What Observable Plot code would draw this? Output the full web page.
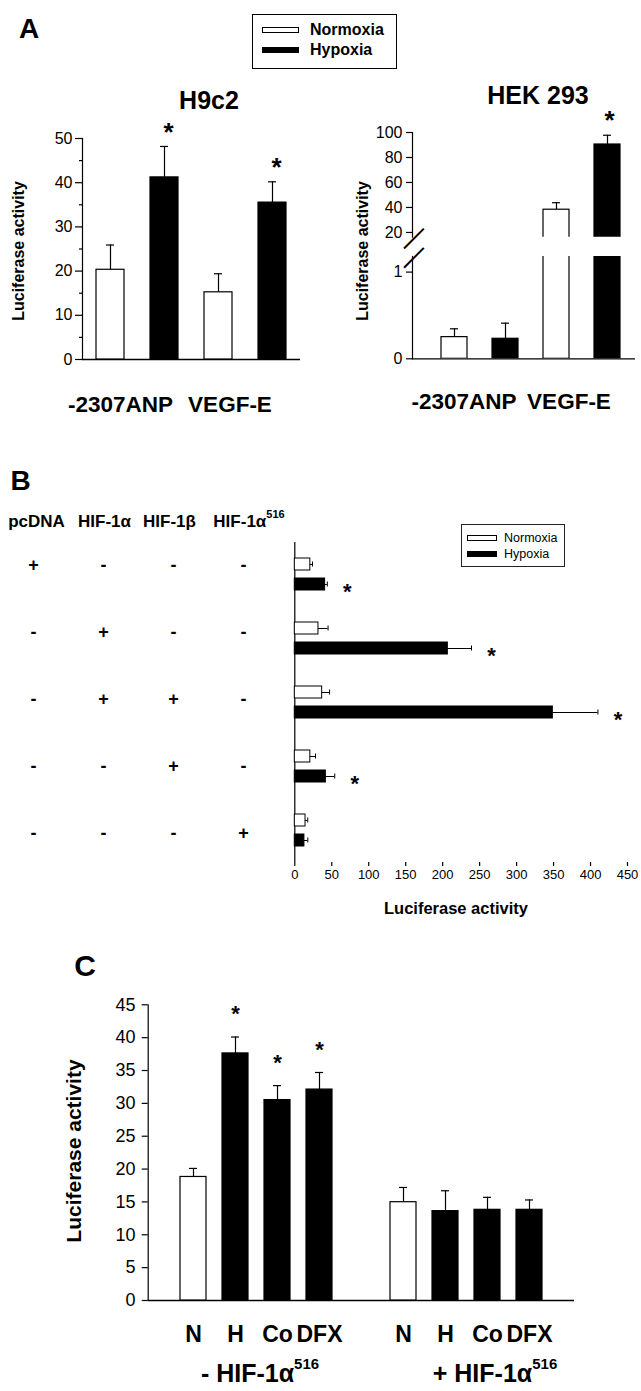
<!DOCTYPE html>
<html><head><meta charset="utf-8">
<script src="https://cdn.jsdelivr.net/npm/d3@7"></script>
<script src="https://cdn.jsdelivr.net/npm/@observablehq/plot@0.6"></script>
<style>
body{margin:0;background:#fff;}
#page{position:relative;width:641px;height:1391px;overflow:hidden;background:#fff;font-family:"Liberation Sans",Arial,Helvetica,sans-serif;color:#000;}
.lbl{position:absolute;white-space:nowrap;line-height:1;transform:translate(-50%,-50%);}
.lbl.start{transform:translate(0,-50%);}
.rot{transform:translate(-50%,-50%) rotate(-90deg);}
.box{position:absolute;box-sizing:border-box;}
</style></head><body><div id="page"></div>
<script>
// ---------- data ----------
const conditions = ["Normoxia", "Hypoxia"];
const reporters = ["-2307ANP", "VEGF-E"];
// Panel A, H9c2
const h9c2Normoxia = [20.3, 15.2];
const h9c2NormoxiaSem = [5.6, 4.2];
const h9c2Hypoxia = [41.2, 35.5];
const h9c2HypoxiaSem = [7.0, 4.7];
const h9c2Sig = [true, true];
const h9c2Ticks = [0, 10, 20, 30, 40, 50];
const h9c2MinorTicks = [5, 15, 25, 35, 45];
// Panel A, HEK 293 (broken axis)
const hekNormoxia = [0.25, 38.2];
const hekNormoxiaSem = [0.096, 5.6];
const hekHypoxia = [0.231, 90.4];
const hekHypoxiaSem = [0.18, 7.4];
const hekSig = [false, true];
const hekLowerTicks = [0, 1];
const hekUpperTicks = [20, 40, 60, 80, 100];
const hekBreak = [1.18, 16.2];
// Panel B
const constructs = ["pcDNA", "HIF-1α", "HIF-1β", "HIF-1α516"];
const transfections = [
  ["+", "-", "-", "-"],
  ["-", "+", "-", "-"],
  ["-", "+", "+", "-"],
  ["-", "-", "+", "-"],
  ["-", "-", "-", "+"]
];
const bNormoxia = [21, 32, 37, 21, 14.5];
const bNormoxiaSem = [3, 13, 10, 7, 3];
const bHypoxia = [41, 207, 349, 42, 13];
const bHypoxiaSem = [3, 32, 61, 12, 4.6];
const bSig = [true, true, true, true, false];
const bTicks = [0, 50, 100, 150, 200, 250, 300, 350, 400, 450];
// Panel C
const treatments = ["N", "H", "Co", "DFX"];
const cGroups = ["- HIF-1α516", "+ HIF-1α516"];
const cMinus = [18.8, 37.6, 30.5, 32.1];
const cMinusSem = [1.3, 2.5, 2.2, 2.6];
const cMinusSig = [false, true, true, true];
const cPlus = [14.96, 13.6, 13.8, 13.8];
const cPlusSem = [2.24, 3.1, 1.9, 1.5];
const cPlusSig = [false, false, false, false];
const cTicks = [0, 5, 10, 15, 20, 25, 30, 35, 40, 45];

// ---------- helpers ----------
const FONT = "'Liberation Sans', Arial, Helvetica, sans-serif";
const page = document.getElementById("page");
const SVGNS = "http://www.w3.org/2000/svg";
function fixFrames(svg) {
  // keep only the left edge of a frame if the anchor option was ignored
  svg.querySelectorAll('[aria-label="frame"]').forEach(el => {
    const r = el.tagName.toLowerCase() === "rect" ? el : el.querySelector("rect");
    if (!r) return;
    const x = +r.getAttribute("x"), y = +r.getAttribute("y"), h = +r.getAttribute("height");
    const line = document.createElementNS(SVGNS, "line");
    line.setAttribute("x1", x); line.setAttribute("x2", x);
    line.setAttribute("y1", y); line.setAttribute("y2", y + h);
    line.setAttribute("stroke", "black"); line.setAttribute("stroke-width", 1.2);
    r.replaceWith(line);
  });
}
function place(el, left, top) {
  fixFrames(el);
  el.style.position = "absolute";
  el.style.left = left + "px";
  el.style.top = top + "px";
  page.appendChild(el);
}
function label(html, cx, cy, size, weight = "bold", mode = "", pad = 0) {
  const d = document.createElement("div");
  d.className = "lbl" + (mode === "rot" ? " rot" : mode === "start" ? " start" : "");
  d.style.left = cx + "px";
  d.style.top = (cy - pad / 2) + "px";
  d.style.fontSize = size + "px";
  d.style.fontWeight = weight;
  if (pad) d.style.paddingTop = pad + "px";
  d.innerHTML = html;
  page.appendChild(d);
}
function supHTML(t, supSize) {
  return t.replace(/516$/, `<span style="font-size:${supSize}px;vertical-align:top;line-height:1;position:relative;top:-0.35em">516</span>`);
}
function box(left, top, w, h, css) {
  const d = document.createElement("div");
  d.className = "box";
  Object.assign(d.style, {left: left + "px", top: top + "px", width: w + "px", height: h + "px"}, css);
  page.appendChild(d);
}
const styleFor = fs => ({fontFamily: FONT, fontSize: fs + "px", background: "transparent", overflow: "visible", color: "black"});
const leftLine = () => Plot.frame({anchor: "left", strokeWidth: 1.2});

// ---------- Panel A: H9c2 ----------
const a1 = [];
reporters.forEach((r, i) => {
  a1.push({key: r + "|N", cond: "Normoxia", mean: h9c2Normoxia[i], sem: h9c2NormoxiaSem[i], sig: false});
  a1.push({key: r + "|H", cond: "Hypoxia", mean: h9c2Hypoxia[i], sem: h9c2HypoxiaSem[i], sig: h9c2Sig[i]});
});
const plotA1 = Plot.plot({
  width: 320, height: 270, marginLeft: 82, marginRight: 20, marginTop: 28, marginBottom: 21,
  style: styleFor(16),
  x: {type: "band", domain: a1.map(d => d.key), paddingInner: 0.49, paddingOuter: 0.245, axis: null},
  y: {domain: [0, 50], label: null},
  marks: [
    Plot.axisY({ticks: h9c2MinorTicks, tickSize: 3, tickFormat: () => "", label: null, strokeWidth: 1.2}),
    Plot.axisY({ticks: h9c2Ticks, tickSize: 7, tickPadding: 3, fontSize: 16, label: null, strokeWidth: 1.2}),
    leftLine(),
    Plot.ruleY([0], {strokeWidth: 1.3}),
    Plot.ruleX(a1, {x: "key", y1: "mean", y2: d => d.mean + d.sem, strokeWidth: 1.2}),
    Plot.tickY(a1, {x: "key", y: d => d.mean + d.sem, insetLeft: 10, insetRight: 10, strokeWidth: 1.2}),
    Plot.barY(a1.filter(d => d.cond === "Normoxia"), {x: "key", y1: () => 0, y2: "mean", fill: "white", stroke: "black", strokeWidth: 1.2}),
    Plot.barY(a1.filter(d => d.cond === "Hypoxia"), {x: "key", y1: () => 0, y2: "mean", fill: "black", stroke: "black", strokeWidth: 1.2}),
    Plot.text(a1.filter(d => d.sig), {x: "key", y: d => d.mean + d.sem, text: () => "*", dx: 4, dy: -14, fontSize: 26, fontWeight: "bold"})
  ]
});
place(plotA1, 0, 110);

// ---------- Panel A: HEK 293, two stacked segments of a broken axis ----------
const a2 = [];
reporters.forEach((r, i) => {
  a2.push({key: r + "|N", cond: "Normoxia", mean: hekNormoxia[i], sem: hekNormoxiaSem[i], sig: false});
  a2.push({key: r + "|H", cond: "Hypoxia", mean: hekHypoxia[i], sem: hekHypoxiaSem[i], sig: hekSig[i]});
});
const hekX = {type: "band", domain: a2.map(d => d.key), paddingInner: 0.5, paddingOuter: 0.4, align: 0.65, axis: null};
function hekMarks(data, lo, ticks, slashAt) {
  return [
    Plot.axisY({ticks, tickSize: 6, tickPadding: 4, fontSize: 16, tickFormat: d => String(d), label: null, strokeWidth: 1.2}),
    leftLine(),
    Plot.ruleX(data, {x: "key", y1: "mean", y2: d => d.mean + d.sem, strokeWidth: 1.2}),
    Plot.tickY(data, {x: "key", y: d => d.mean + d.sem, insetLeft: 9, insetRight: 9, strokeWidth: 1.2}),
    Plot.barY(a2.filter(d => d.cond === "Normoxia" && d.mean > lo), {x: "key", y1: () => 0, y2: "mean", fill: "white", stroke: "black", strokeWidth: 1.2, clip: true}),
    Plot.barY(a2.filter(d => d.cond === "Hypoxia" && d.mean > lo), {x: "key", y1: () => 0, y2: "mean", fill: "black", stroke: "black", strokeWidth: 1.2, clip: true}),
    Plot.text([slashAt], {y: d => d, text: () => "—", frameAnchor: "left", textAnchor: "middle", rotate: -45, fontSize: 28})
  ];
}
const upperData = a2.filter(d => d.mean > hekBreak[1]);
const plotA2u = Plot.plot({
  width: 321, height: 127, marginLeft: 92, marginRight: 6, marginTop: 22, marginBottom: 0.3,
  style: styleFor(16),
  x: hekX,
  y: {domain: [hekBreak[1], 100], label: null},
  marks: [
    ...hekMarks(upperData, hekBreak[1], hekUpperTicks, hekBreak[1]),
    Plot.text(upperData.filter(d => d.sig), {x: "key", y: d => d.mean + d.sem, text: () => "*", dx: 2, dy: -15, fontSize: 26, fontWeight: "bold"})
  ]
});
place(plotA2u, 320, 110);
const lowerData = a2.filter(d => d.mean <= hekBreak[0]);
const plotA2l = Plot.plot({
  width: 321, height: 130, marginLeft: 92, marginRight: 6, marginTop: 6, marginBottom: 21.7,
  style: styleFor(16),
  x: hekX,
  y: {domain: [0, hekBreak[0]], label: null},
  marks: [
    Plot.ruleY([0], {strokeWidth: 1.3}),
    ...hekMarks(lowerData, -1, hekLowerTicks, hekBreak[0])
  ]
});
place(plotA2l, 320, 250);

// Panel A labels
label("A", 29, 28.5, 28);
label("H9c2", 209, 99.5, 25);
label("HEK 293", 538, 94.5, 25);
label("Luciferase activity", 19, 251, 16, "bold", "rot");
label("Luciferase activity", 363, 251, 16, "bold", "rot");
label(reporters[0], 120.5, 405, 22.5);
label(reporters[1], 230, 405, 22.5);
label(reporters[0], 464, 402, 22.5);
label(reporters[1], 569, 402, 22.5);
// legend A
box(252, 14, 145, 55, {border: "1.5px solid black", background: "white"});
box(262, 27, 37, 6, {border: "1px solid black", background: "white"});
box(262, 47, 37, 6, {background: "black"});
label(conditions[0], 310, 30, 16, "bold", "start");
label(conditions[1], 310, 50, 16, "bold", "start");

// ---------- Panel B ----------
const bData = [];
transfections.forEach((t, i) => {
  bData.push({row: i, cond: "Normoxia", mean: bNormoxia[i], sem: bNormoxiaSem[i], sig: false});
  bData.push({row: i, cond: "Hypoxia", mean: bHypoxia[i], sem: bHypoxiaSem[i], sig: bSig[i]});
});
const plotB = Plot.plot({
  width: 391, height: 380, marginLeft: 44.3, marginRight: 14, marginTop: 12, marginBottom: 48,
  style: styleFor(13),
  x: {domain: [0, 450], label: null},
  y: {type: "band", domain: conditions, paddingInner: 0.38, paddingOuter: 0.714, axis: null},
  fy: {domain: transfections.map((_, i) => i), padding: 0, axis: null, label: null},
  marks: [
    Plot.axisX({ticks: bTicks, tickSize: 4, tickPadding: 3, fontSize: 13, label: null, line: true, strokeWidth: 1.2}),
    Plot.ruleX([0], {strokeWidth: 1.2}),
    Plot.ruleY(bData, {fy: "row", y: "cond", x1: "mean", x2: d => d.mean + d.sem, strokeWidth: 1}),
    Plot.tickX(bData, {fy: "row", y: "cond", x: d => d.mean + d.sem, insetTop: 3.5, insetBottom: 3.5, strokeWidth: 1}),
    Plot.barX(bData.filter(d => d.cond === "Normoxia"), {fy: "row", y: "cond", x1: () => 0, x2: "mean", fill: "white", stroke: "black", strokeWidth: 1}),
    Plot.barX(bData.filter(d => d.cond === "Hypoxia"), {fy: "row", y: "cond", x1: () => 0, x2: "mean", fill: "black", stroke: "black", strokeWidth: 1}),
    Plot.text(bData.filter(d => d.sig), {fy: "row", y: "cond", x: d => d.mean + d.sem, text: () => "*", dx: 20, dy: 7, fontSize: 22, fontWeight: "bold"})
  ]
});
place(plotB, 250, 530);

// transfection table
const tableData = [];
transfections.forEach((row, i) => row.forEach((s, j) => tableData.push({row: i, col: constructs[j], sign: s})));
const plotTable = Plot.plot({
  width: 290, height: 320, marginLeft: 33, marginRight: 47, marginTop: 25, marginBottom: 27,
  style: styleFor(18),
  x: {type: "point", domain: constructs, padding: 0, axis: null},
  y: {type: "point", domain: transfections.map((_, i) => i), padding: 0, axis: null},
  marks: [
    Plot.text(tableData, {x: "col", y: "row", text: "sign", fontSize: 18, fontWeight: "bold"})
  ]
});
place(plotTable, 0, 540);

label("B", 20.5, 480.5, 28);
label(constructs[0], 36.5, 521, 17);
label(constructs[1], 104.5, 521, 17);
label(constructs[2], 169.5, 521, 17);
label(supHTML(constructs[3], 11), 249, 521, 17, "bold", "", 6);
label("Luciferase activity", 456, 908, 16.5);
// legend B
box(461, 524, 104, 43, {border: "1px solid #222", background: "white"});
box(467, 535, 30, 6, {border: "1px solid black", background: "white"});
box(467, 551, 30, 6, {background: "black"});
label(conditions[0], 504, 538, 12.5, "normal", "start");
label(conditions[1], 504, 554, 12.5, "normal", "start");

// ---------- Panel C ----------
const cData = [];
treatments.forEach((t, i) => cData.push({key: "m|" + t, treat: t, mean: cMinus[i], sem: cMinusSem[i], sig: cMinusSig[i]}));
treatments.forEach((t, i) => cData.push({key: "p|" + t, treat: t, mean: cPlus[i], sem: cPlusSem[i], sig: cPlusSig[i]}));
const cKeys = [...treatments.map(t => "m|" + t), "gap", ...treatments.map(t => "p|" + t)];
const plotC = Plot.plot({
  width: 641, height: 401, marginLeft: 147.7, marginRight: 67, marginTop: 14.3, marginBottom: 91,
  style: styleFor(18),
  x: {type: "band", domain: cKeys, paddingInner: 0.387, paddingOuter: 0.72, label: null},
  y: {domain: [0, 45], label: null},
  marks: [
    Plot.axisY({ticks: cTicks, tickSize: 6, tickPadding: 6.7, fontSize: 18, label: null, strokeWidth: 1.2}),
    Plot.axisX({ticks: cKeys.filter(k => k !== "gap"), tickSize: 0, tickPadding: 25, fontSize: 23, fontWeight: "bold", tickFormat: k => k.split("|")[1], label: null}),
    leftLine(),
    Plot.ruleY([0], {strokeWidth: 1.3}),
    Plot.ruleX(cData, {x: "key", y1: "mean", y2: d => d.mean + d.sem, strokeWidth: 1.2}),
    Plot.tickY(cData, {x: "key", y: d => d.mean + d.sem, insetLeft: 9, insetRight: 9, strokeWidth: 1.2}),
    Plot.barY(cData.filter(d => d.treat === "N"), {x: "key", y1: () => 0, y2: "mean", fill: "white", stroke: "black", strokeWidth: 1.2}),
    Plot.barY(cData.filter(d => d.treat !== "N"), {x: "key", y1: () => 0, y2: "mean", fill: "black", stroke: "black", strokeWidth: 1.2}),
    Plot.text(cData.filter(d => d.sig), {x: "key", y: d => d.mean + d.sem, text: () => "*", dy: -23, fontSize: 22, fontWeight: "bold"})
  ]
});
place(plotC, 0, 990);

label("C", 85, 966, 30);
label("Luciferase activity", 73, 1151, 21, "bold", "rot");
label(supHTML(cGroups[0], 15), 260, 1373, 25, "bold", "", 8);
label(supHTML(cGroups[1], 15), 495, 1373, 25, "bold", "", 8);
</script></body></html>
